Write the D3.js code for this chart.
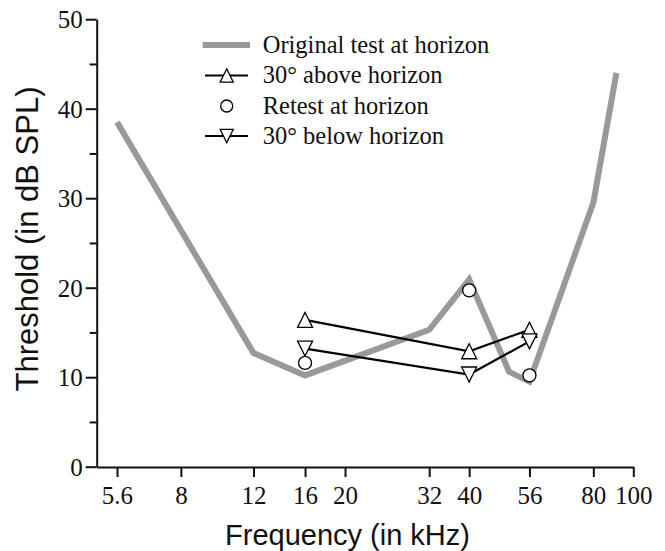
<!DOCTYPE html>
<html>
<head>
<meta charset="utf-8">
<script src="https://cdn.jsdelivr.net/npm/d3@7"></script>
<style>
  body { margin: 0; background: #fff; }
  svg { display: block; }
</style>
</head>
<body>
<svg id="chart"></svg>
<script>
// original test at horizon (grey line)
const freqOriginal = [5.6, 12, 16, 32, 40, 50, 56, 80, 91];
const threshOriginal = [38.5, 12.7, 10.2, 15.3, 20.9, 10.6, 9.5, 29.5, 44];

// follow-up tests
const freqTest = [16, 40, 56];
const threshAbove = [16.4, 12.9, 15.3];
const threshRetest = [11.6, 19.7, 10.2];
const threshBelow = [13.2, 10.3, 14.0];

const xTicks = [5.6, 8, 12, 16, 20, 32, 40, 56, 80, 100];
const yTicks = [0, 10, 20, 30, 40, 50];
const yMinorTicks = [5, 15, 25, 35, 45];

const legendLabels = ["Original test at horizon", "30\u00b0 above horizon", "Retest at horizon", "30\u00b0 below horizon"];

let width = 665;
let height = 551;
let svg = d3.select("#chart")
  .attr("width", width)
  .attr("height", height);

const xScale = d3.scaleLog()
  .domain([5, 100])
  .range([96.7, 633.3]);

const yScale = d3.scaleLinear()
  .domain([0, 50])
  .range([466.7, 19.2]);

const serif = "'Liberation Serif', 'Times New Roman', serif";
const sans = "'Liberation Sans', Arial, sans-serif";

// axes
let xAxis = svg.append("g")
  .attr("transform", "translate(0,467)")
  .call(d3.axisBottom(xScale)
    .tickValues(xTicks)
    .tickSize(10)
    .tickSizeOuter(0)
    .tickPadding(9)
    .tickFormat(d => String(d)));

let yAxis = svg.append("g")
  .attr("transform", "translate(96.7,0)")
  .call(d3.axisLeft(yScale)
    .tickValues(yTicks)
    .tickSize(11)
    .tickSizeOuter(0)
    .tickPadding(3)
    .tickFormat(d => d));

svg.append("g")
  .attr("transform", "translate(96.7,0)")
  .call(d3.axisLeft(yScale)
    .tickValues(yMinorTicks)
    .tickSize(7)
    .tickFormat(""))
  .select(".domain").remove();

svg.selectAll(".domain, .tick line")
  .attr("stroke", "#111")
  .attr("stroke-width", 2);

svg.selectAll(".tick text")
  .attr("font-family", serif)
  .attr("font-size", 25)
  .attr("fill", "#111");

yAxis.selectAll(".tick text").attr("dy", "0.34em");

// axis titles
svg.append("text")
  .attr("x", 347.5)
  .attr("y", 545)
  .attr("text-anchor", "middle")
  .attr("font-family", sans)
  .attr("font-size", 29)
  .attr("fill", "#111")
  .text("Frequency (in kHz)");

svg.append("text")
  .attr("transform", "translate(38,239) rotate(-90)")
  .attr("text-anchor", "middle")
  .attr("font-family", sans)
  .attr("font-size", 31)
  .attr("fill", "#111")
  .text("Threshold (in dB SPL)");

// grey line
const line = d3.line()
  .x(d => xScale(d[0]))
  .y(d => yScale(d[1]));

svg.append("path")
  .datum(d3.zip(freqOriginal, threshOriginal))
  .attr("d", line)
  .attr("fill", "none")
  .attr("stroke", "#999")
  .attr("stroke-width", 6);

// black connecting lines
[threshAbove, threshBelow].forEach(vals => {
  svg.append("path")
    .datum(d3.zip(freqTest, vals))
    .attr("d", line)
    .attr("fill", "none")
    .attr("stroke", "#000")
    .attr("stroke-width", 2.2);
});

const triUp = "M0,-7.5L7.5,7.5L-7.5,7.5Z";
const triDown = "M0,7.5L7.5,-7.5L-7.5,-7.5Z";

function drawMarkers(vals, shape) {
  let g = svg.append("g");
  vals.forEach((v, i) => {
    let x = xScale(freqTest[i]);
    let y = yScale(v);
    if (shape == "circle") {
      g.append("circle")
        .attr("cx", x).attr("cy", y).attr("r", 6.5)
        .attr("fill", "#fff").attr("stroke", "#000").attr("stroke-width", 1.3);
    } else {
      g.append("path")
        .attr("d", shape == "up" ? triUp : triDown)
        .attr("transform", `translate(${x},${y})`)
        .attr("fill", "#fff").attr("stroke", "#000").attr("stroke-width", 1.3);
    }
  });
}

drawMarkers(threshAbove, "up");
drawMarkers(threshBelow, "down");
drawMarkers(threshRetest, "circle");

// legend
let legend = svg.append("g");
const rowY = [45, 75.5, 106, 136];

legend.append("line")
  .attr("x1", 202.7).attr("x2", 250)
  .attr("y1", rowY[0]).attr("y2", rowY[0])
  .attr("stroke", "#999").attr("stroke-width", 6);

[1, 3].forEach(i => {
  legend.append("line")
    .attr("x1", 205).attr("x2", 248)
    .attr("y1", rowY[i]).attr("y2", rowY[i])
    .attr("stroke", "#000").attr("stroke-width", 2);
  legend.append("path")
    .attr("d", i == 1 ? triUp : triDown)
    .attr("transform", `translate(226.7,${rowY[i]}) scale(0.88)`)
    .attr("fill", "#fff").attr("stroke", "#000").attr("stroke-width", 1.4);
});

legend.append("circle")
  .attr("cx", 226.7).attr("cy", rowY[2]).attr("r", 6)
  .attr("fill", "#fff").attr("stroke", "#000").attr("stroke-width", 1.3);

legend.selectAll("text.lab")
  .data(legendLabels)
  .enter()
  .append("text")
  .attr("class", "lab")
  .attr("x", 262.7)
  .attr("y", (d, i) => rowY[i])
  .attr("dy", "0.32em")
  .attr("font-family", serif)
  .attr("font-size", 24.5)
  .attr("fill", "#111")
  .text(d => d);
</script>
</body>
</html>
